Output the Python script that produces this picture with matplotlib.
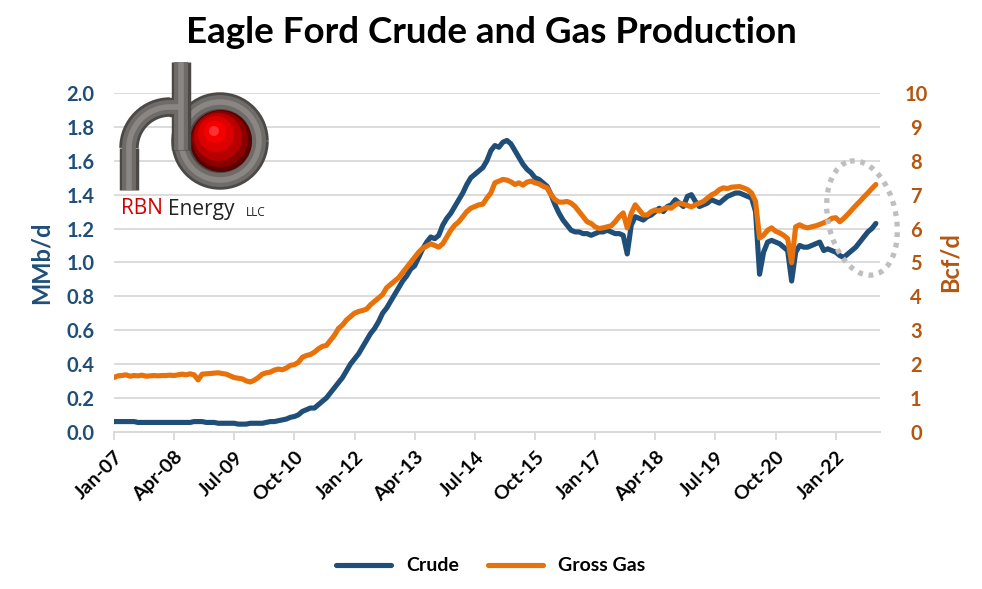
import numpy as np
import pandas as pd
import matplotlib
matplotlib.use('Agg')
import matplotlib.pyplot as plt
from matplotlib.patches import Ellipse, Circle, Arc

plt.rcParams['font.family'] = ['Lato', 'DejaVu Sans']

# monthly data, Jan-07 .. Nov-22
crude = [
    0.06, 0.06, 0.06, 0.06, 0.06, 0.06, 0.055, 0.055, 0.055, 0.055, 0.055, 0.055,   # 2007
    0.055, 0.055, 0.055, 0.055, 0.055, 0.055, 0.055, 0.055, 0.06, 0.06, 0.06, 0.055,  # 2008
    0.055, 0.055, 0.05, 0.05, 0.05, 0.05, 0.05, 0.045, 0.045, 0.045, 0.05, 0.05,     # 2009
    0.05, 0.05, 0.055, 0.06, 0.06, 0.065, 0.07, 0.075, 0.085, 0.09, 0.10, 0.12,      # 2010
    0.13, 0.14, 0.14, 0.16, 0.18, 0.20, 0.23, 0.26, 0.29, 0.32, 0.36, 0.40,          # 2011
    0.43, 0.46, 0.50, 0.54, 0.58, 0.61, 0.65, 0.70, 0.73, 0.77, 0.81, 0.85,          # 2012
    0.89, 0.92, 0.96, 0.98, 1.03, 1.08, 1.12, 1.15, 1.14, 1.16, 1.22, 1.26,          # 2013
    1.29, 1.33, 1.37, 1.41, 1.46, 1.50, 1.52, 1.54, 1.56, 1.60, 1.66, 1.69,          # 2014
    1.68, 1.71, 1.72, 1.70, 1.66, 1.62, 1.58, 1.55, 1.53, 1.50, 1.49, 1.47,          # 2015
    1.45, 1.40, 1.34, 1.29, 1.25, 1.22, 1.19, 1.18, 1.18, 1.17, 1.17, 1.16,          # 2016
    1.17, 1.18, 1.18, 1.19, 1.18, 1.17, 1.17, 1.16, 1.05, 1.22, 1.27, 1.26,          # 2017
    1.25, 1.27, 1.28, 1.30, 1.32, 1.30, 1.33, 1.34, 1.37, 1.35, 1.33, 1.39,          # 2018
    1.40, 1.36, 1.33, 1.34, 1.35, 1.37, 1.36, 1.35, 1.37, 1.39, 1.40, 1.41,          # 2019
    1.41, 1.40, 1.39, 1.38, 1.30, 0.93, 1.06, 1.12, 1.13, 1.12, 1.11, 1.09,          # 2020
    1.07, 0.89, 1.06, 1.10, 1.09, 1.09, 1.10, 1.11, 1.12, 1.07, 1.08, 1.07,          # 2021
    1.06, 1.04, 1.03, 1.05, 1.07, 1.09, 1.12, 1.15, 1.18, 1.20, 1.23,                # 2022
]
gas = [
    1.60, 1.65, 1.66, 1.68, 1.64, 1.66, 1.65, 1.67, 1.64, 1.65, 1.66, 1.65,
    1.66, 1.66, 1.67, 1.66, 1.68, 1.70, 1.68, 1.71, 1.68, 1.53, 1.70, 1.71,
    1.72, 1.73, 1.74, 1.72, 1.70, 1.65, 1.60, 1.58, 1.56, 1.50, 1.47, 1.52,
    1.60, 1.70, 1.74, 1.76, 1.82, 1.85, 1.83, 1.88, 1.96, 1.98, 2.05, 2.20,
    2.25, 2.28, 2.35, 2.45, 2.52, 2.55, 2.70, 2.85, 3.05, 3.15, 3.30, 3.40,
    3.50, 3.55, 3.58, 3.62, 3.75, 3.85, 3.95, 4.05, 4.25, 4.35, 4.45, 4.55,
    4.70, 4.85, 5.00, 5.15, 5.30, 5.42, 5.48, 5.55, 5.50, 5.45, 5.55, 5.75,
    5.95, 6.10, 6.20, 6.35, 6.50, 6.60, 6.65, 6.70, 6.72, 6.90, 7.05, 7.35,
    7.40, 7.45, 7.43, 7.38, 7.30, 7.35, 7.28, 7.37, 7.40, 7.35, 7.32, 7.25,
    7.20, 7.00, 6.85, 6.78, 6.78, 6.80, 6.75, 6.65, 6.50, 6.35, 6.20, 6.15,
    6.05, 6.00, 6.02, 6.05, 6.08, 6.20, 6.35, 6.46, 6.02, 6.45, 6.70, 6.55,
    6.40, 6.40, 6.50, 6.55, 6.52, 6.58, 6.62, 6.60, 6.70, 6.75, 6.72, 6.68,
    6.64, 6.70, 6.75, 6.80, 6.90, 6.99, 7.05, 7.15, 7.20, 7.18, 7.22, 7.23,
    7.24, 7.20, 7.15, 7.05, 6.80, 5.72, 5.80, 5.95, 6.02, 5.92, 5.87, 5.80,
    5.70, 4.99, 6.05, 6.11, 6.05, 6.02, 6.05, 6.08, 6.12, 6.17, 6.22, 6.30,
    6.32, 6.20, 6.30, 6.42, 6.55, 6.68, 6.80, 6.93, 7.05, 7.18, 7.30,
]
dates = pd.date_range('2007-01-01', periods=len(crude), freq='MS')

BLUE = '#1F4E79'
ORANGE = '#E8710A'
BROWN = '#B4560F'

fig = plt.figure(figsize=(9.82, 5.89), dpi=100)
ax = fig.add_axes([0.116, 0.267, 0.780, 0.575])
ax2 = ax.twinx()

x = np.arange(len(crude))
ax2.plot(x, gas, color=ORANGE, lw=3.7, solid_capstyle='round', label='Gross Gas', zorder=3)
ax.plot(x, crude, color=BLUE, lw=3.7, solid_capstyle='round', label='Crude', zorder=3)
ax.set_zorder(1)
ax2.set_zorder(2)
ax2.patch.set_visible(False)

ax.set_xlim(0, 191)
ax.set_ylim(0, 2.0)
ax2.set_ylim(0, 10)
ax.set_yticks(np.arange(0, 2.01, 0.2))
ax2.set_yticks(range(0, 11))
ax.yaxis.grid(True, color='#D9D9D9', lw=1.3)
ax.set_axisbelow(True)

tick_pos = np.arange(0, 181, 15)
ax.set_xticks(tick_pos)
ax.set_xticklabels([dates[i].strftime('%b-%y') for i in tick_pos], rotation=45,
                   ha='right', rotation_mode='anchor', fontsize=14, fontweight='bold')
ax.tick_params(axis='x', length=6, color='#D9D9D9', width=1.3, pad=6)
ax.tick_params(axis='y', length=0, labelsize=14.5, labelcolor=BLUE, pad=14)
ax2.tick_params(axis='y', length=0, labelsize=14.5, labelcolor=BROWN, pad=26)
for lab in ax.get_yticklabels():
    lab.set_fontweight('bold')
for lab in ax2.get_yticklabels():
    lab.set_fontweight('bold')
    lab.set_horizontalalignment('center')

for a in (ax, ax2):
    for s in ('top', 'left', 'right'):
        a.spines[s].set_visible(False)
    a.spines['bottom'].set_color('#D9D9D9')
    a.spines['bottom'].set_linewidth(1.3)

ax.set_ylabel('MMb/d', fontsize=17, fontweight='bold', color=BLUE, labelpad=10)
ax2.set_ylabel('Bcf/d', fontsize=17, fontweight='bold', color=BROWN, labelpad=8)

fig.suptitle('Eagle Ford Crude and Gas Production', fontsize=26.5, fontweight='bold', y=0.972)

h1, l1 = ax.get_legend_handles_labels()
h2, l2 = ax2.get_legend_handles_labels()
fig.legend(h1 + h2, l1 + l2, loc='lower center', bbox_to_anchor=(0.5, -0.005), ncol=2,
           frameon=False, prop={'weight': 'bold', 'size': 14}, handlelength=2.8,
           columnspacing=1.5)

# overlay in pixel coordinates for logo and highlight ellipse
ov = fig.add_axes([0, 0, 1, 1], zorder=10)
ov.set_xlim(0, 982)
ov.set_ylim(589, 0)
ov.axis('off')

ov.add_patch(Ellipse((862, 218), 68, 116, angle=-12, fill=False, ec='#BFBFBF',
                     lw=3.8, ls=(0, (0.9, 1.1))))

# RBN logo
for lw, col in ((14, '#4B4845'), (10, '#6F6B68'), (4, '#8A8683')):
    ov.plot([181, 181], [62, 150], color=col, lw=lw, solid_capstyle='butt')
    ov.add_patch(Arc((220, 141), 78, 78, color=col, lw=lw))
    ov.add_patch(Arc((170, 148), 82, 82, theta1=180, theta2=270, color=col, lw=lw))
    ov.plot([129, 129], [148, 190], color=col, lw=lw, solid_capstyle='butt')
    ov.plot([169, 181], [107, 107], color=col, lw=lw, solid_capstyle='butt')
for r, col, dx, dy in ((31, '#5A0000', 0, 0), (28, '#8A0000', -1, -2), (24, '#B80000', -3, -4),
                       (18, '#DD0000', -5, -7), (11, '#F50000', -6, -9), (5, '#FF3030', -7, -10)):
    ov.add_patch(Circle((221 + dx, 141 + dy), r, color=col, lw=0))
ov.text(121, 209, 'RBN', color='#D00000', fontsize=15, va='center', family='Open Sans')
ov.text(168, 209, 'Energy', color='#222222', fontsize=15, va='center', family='Open Sans')
ov.text(246, 212, 'LLC', color='#222222', fontsize=8.5, va='center', family='Open Sans')

fig.savefig('out.png', dpi=100)
